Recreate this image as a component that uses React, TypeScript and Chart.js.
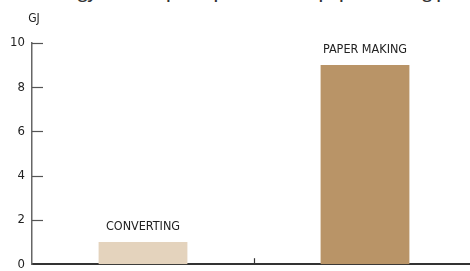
import React, { useEffect, useRef } from "react";
import { Chart, registerables } from "chart.js";

Chart.register(...registerables);

const categories = ["CONVERTING", "PAPER MAKING"];
const energyGJ = [1, 9];
const barColors = ["#e4d3bd", "#b99467"];
const yTicks = [0, 2, 4, 6, 8, 10];
const unitLabel = "GJ";
const titleText = "Energy consumption per tonne in paper making process";

const FONT = "'DejaVu Sans Condensed', 'Open Sans', sans-serif";

const decorPlugin = {
  id: "decor",
  afterDraw(chart: any) {
    const ctx = chart.ctx;
    const y = chart.scales.y;
    const x = chart.scales.x;
    const area = chart.chartArea;
    ctx.save();
    ctx.strokeStyle = "#555";
    ctx.lineWidth = 1.2;
    yTicks.forEach((v) => {
      if (v === 0) return;
      const py = Math.round(y.getPixelForValue(v)) + 0.5;
      ctx.beginPath();
      ctx.moveTo(area.left, py);
      ctx.lineTo(area.left + 11, py);
      ctx.stroke();
    });
    for (let i = 1; i < categories.length; i++) {
      const px = Math.round((x.getPixelForValue(i - 1) + x.getPixelForValue(i)) / 2) + 0.5;
      ctx.strokeStyle = "#333";
      ctx.beginPath();
      ctx.moveTo(px, area.bottom);
      ctx.lineTo(px, area.bottom - 6);
      ctx.stroke();
    }
    const meta = chart.getDatasetMeta(0);
    ctx.fillStyle = "#222";
    ctx.font = "12.5px " + FONT;
    ctx.textAlign = "center";
    ctx.textBaseline = "alphabetic";
    meta.data.forEach((bar: any, i: number) => {
      ctx.fillText(categories[i], bar.x, bar.y - 12);
    });
    ctx.font = "12px " + FONT;
    ctx.fillText(unitLabel, area.left + 2, area.top - 21);
    ctx.restore();
  },
};

export default function App() {
  const ref = useRef<HTMLCanvasElement>(null);
  useEffect(() => {
    if (!ref.current) return;
    const chart = new Chart(ref.current, {
      type: "bar",
      data: {
        labels: categories,
        datasets: [
          {
            data: energyGJ,
            backgroundColor: barColors,
            borderWidth: 0,
            barPercentage: 0.4,
            categoryPercentage: 1,
          },
        ],
      },
      options: {
        animation: false,
        responsive: false,
        maintainAspectRatio: false,
        layout: { padding: { top: 43, right: 2, left: 0, bottom: 0 } },
        plugins: { legend: { display: false }, tooltip: { enabled: false }, title: { display: false } },
        scales: {
          x: {
            offset: true,
            ticks: { display: false },
            grid: { display: false, drawTicks: false },
            border: { display: true, color: "#333", width: 2 },
            afterFit: (s: any) => {
              s.height = 0;
            },
          },
          y: {
            min: 0,
            max: 10,
            afterBuildTicks: (s: any) => {
              s.ticks = yTicks.map((v) => ({ value: v }));
            },
            ticks: {
              color: "#222",
              font: { family: FONT, size: 13 },
              padding: 7,
            },
            grid: { display: false, drawTicks: false },
            border: { display: true, color: "#666", width: 1.5 },
            afterFit: (s: any) => {
              s.width = 32;
            },
          },
        },
      },
      plugins: [decorPlugin],
    });
    return () => chart.destroy();
  }, []);
  return (
    <div style={{ position: "absolute", left: 0, top: 0, width: 478, height: 271, overflow: "hidden", background: "#fff" }}>
      <div
        style={{
          position: "absolute",
          top: -20,
          left: 0,
          width: 540,
          textAlign: "center",
          fontFamily: "'Open Sans', sans-serif",
          fontWeight: 600,
          fontSize: 17,
          color: "#333",
          whiteSpace: "nowrap",
        }}
      >
        {titleText}
      </div>
      <canvas ref={ref} width={478} height={279} style={{ position: "absolute", left: 0, top: 0 }} />
    </div>
  );
}
